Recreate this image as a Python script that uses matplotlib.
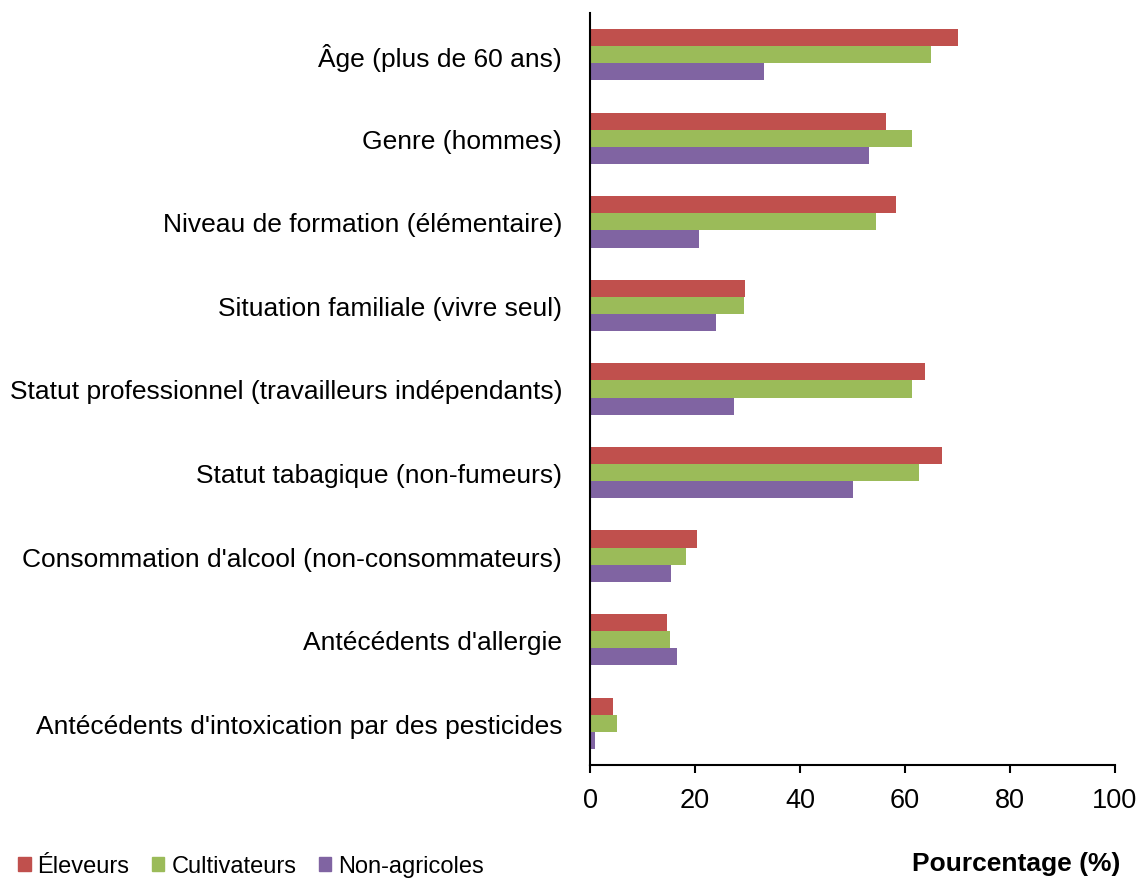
import numpy as np
import matplotlib
matplotlib.use("Agg")
from matplotlib import pyplot as plt
from matplotlib.patches import Patch

plt.rcParams['font.family'] = ['Liberation Sans', 'DejaVu Sans']

categories = [
    "Âge (plus de 60 ans)",
    "Genre (hommes)",
    "Niveau de formation (élémentaire)",
    "Situation familiale (vivre seul)",
    "Statut professionnel (travailleurs indépendants)",
    "Statut tabagique (non-fumeurs)",
    "Consommation d'alcool (non-consommateurs)",
    "Antécédents d'allergie",
    "Antécédents d'intoxication par des pesticides",
]
eleveurs = [70.1, 56.3, 58.2, 29.6, 63.8, 67.1, 20.4, 14.6, 4.4]
cultivateurs = [64.9, 61.4, 54.4, 29.4, 61.4, 62.6, 18.3, 15.2, 5.1]
non_agricoles = [33.2, 53.2, 20.8, 24.0, 27.4, 50.1, 15.4, 16.6, 0.9]
series_names = ["Éleveurs", "Cultivateurs", "Non-agricoles"]
colors = ["#c0504d", "#9bbb59", "#8064a2"]
xticks = [0, 20, 40, 60, 80, 100]

fig = plt.figure(figsize=(11.4, 8.79), dpi=100)
ax = fig.add_axes([590 / 1140, 1 - 766 / 879, 525 / 1140, 752 / 879])

y = np.arange(len(categories))
h = 0.205
for i, (vals, col) in enumerate(zip([eleveurs, cultivateurs, non_agricoles], colors)):
    ax.barh(y + (i - 1) * h, vals, height=h, color=col, edgecolor='none')

ax.set_ylim(len(categories) - 0.5, -0.5)
ax.set_xlim(0, 100)
ax.set_yticks(y)
ax.set_yticklabels(categories, fontsize=19)
ax.set_xticks(xticks)
ax.set_xticklabels([str(t) for t in xticks], fontsize=19.5)
ax.tick_params(axis='y', length=0, pad=20)
ax.tick_params(axis='x', length=6, width=1.5, direction='out', pad=10)
for s in ['top', 'right']:
    ax.spines[s].set_visible(False)
for s in ['left', 'bottom']:
    ax.spines[s].set_linewidth(1.5)

handles = [Patch(color=c, label=n) for c, n in zip(colors, series_names)]
fig.legend(handles=handles, loc='center left', bbox_to_anchor=(0.016, 1 - 867 / 879),
           ncol=3, frameon=False, fontsize=17, handlelength=0.52, handleheight=0.52,
           handletextpad=0.3, columnspacing=0.95, borderpad=0, borderaxespad=0)

fig.text(1120 / 1140, 1 - 864 / 879, "Pourcentage (%)", ha='right', va='center',
         fontsize=19, fontweight='bold')

fig.savefig("out.png", dpi=100)
